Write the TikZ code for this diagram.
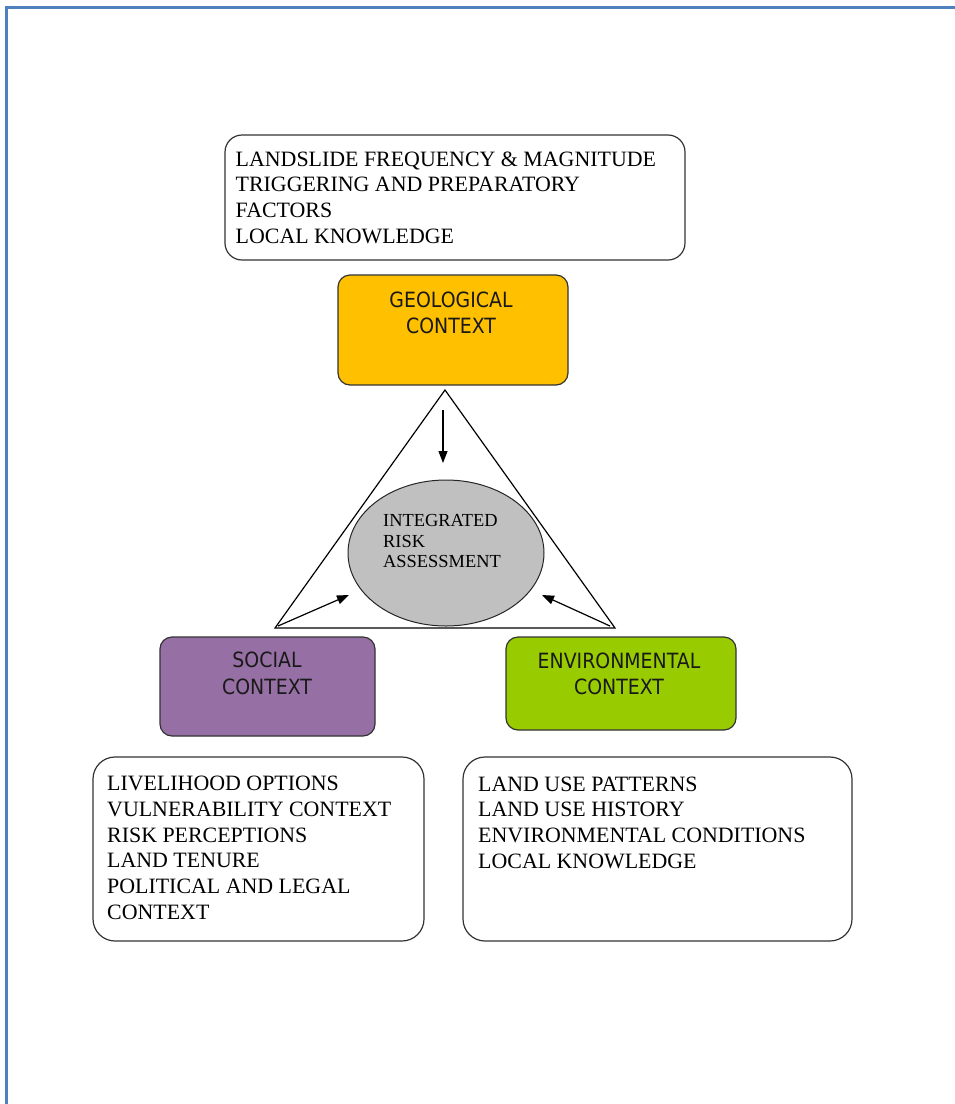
\documentclass[tikz,border=0pt]{standalone}
\usepackage{fontspec}
\setmainfont{Liberation Serif}
\newfontfamily\labelfont[FakeStretch=0.9]{DejaVu Sans}
\usetikzlibrary{arrows.meta,shapes.geometric}
\definecolor{frameblue}{RGB}{79,129,189}
\definecolor{geoyellow}{RGB}{255,192,0}
\definecolor{socpurple}{RGB}{150,112,164}
\definecolor{envgreen}{RGB}{153,204,0}
\definecolor{ellgray}{RGB}{192,192,192}
\begin{document}
\begin{tikzpicture}[x=1pt,y=-1pt,
  listbox/.style={draw=black!80, line width=1.2pt, rounded corners=17pt, inner sep=0pt},
  ctxbox/.style={draw=black!80, line width=1.2pt, rounded corners=12pt, inner sep=0pt},
  listtext/.style={anchor=north west, inner sep=0pt, align=left,
    font=\fontsize{21.9}{25.7}\selectfont},
  ctxtext/.style={inner sep=0pt, align=center, text=black!90,
    font=\labelfont\fontsize{21}{26.5}\selectfont},
  link/.style={line width=1.2pt, -{Triangle[length=12pt,width=9pt]}}]

\useasboundingbox (0,0) rectangle (955,1104);

% page frame
\draw[frameblue, line width=3pt] (6,1104) -- (6,7) -- (955,7);

% geological factors
\node[listbox, minimum width=460pt, minimum height=125pt] (geofacts) at (455,197.5) {};
\node[listtext] (geofactstext) at (235.5,151.5)
  {LANDSLIDE FREQUENCY \& MAGNITUDE\\TRIGGERING AND PREPARATORY\\FACTORS\\LOCAL KNOWLEDGE};

% context boxes
\node[ctxbox, fill=geoyellow, minimum width=230pt, minimum height=110pt] (geo) at (453,330) {};
\node[ctxtext] (geotext) at (451,313) {GEOLOGICAL\\CONTEXT};

\node[ctxbox, fill=socpurple, minimum width=215pt, minimum height=99pt] (soc) at (267.5,686.5) {};
\node[ctxtext] (soctext) at (267,673.5) {SOCIAL\\CONTEXT};

\node[ctxbox, fill=envgreen, minimum width=230pt, minimum height=93pt] (env) at (621,683.5) {};
\node[ctxtext] (envtext) at (619,674) {ENVIRONMENTAL\\CONTEXT};

% triangle with the assessment in its middle
\coordinate (apex) at (445,390);
\coordinate (baseleft) at (275,628);
\coordinate (baseright) at (615,628);
\draw[line width=1.2pt, line join=miter] (apex) -- (baseleft) -- (baseright) -- cycle;

\node[ellipse, draw=black!85, line width=1pt, fill=ellgray,
  minimum width=196pt, minimum height=146pt, inner sep=0pt] (ira) at (446,553) {};
\node[anchor=north west, inner sep=0pt, align=left,
  font=\fontsize{18.4}{20.7}\selectfont] (iratext) at (383,514)
  {INTEGRATED\\RISK\\ASSESSMENT};

% arrows into the assessment
\coordinate (geofrom) at (443,410);
\coordinate (geoto) at (443,463);
\coordinate (socfrom) at (278,626);
\coordinate (socto) at (349,595);
\coordinate (envfrom) at (610,626);
\coordinate (envto) at (542,595);
\draw[link] (geofrom) -- (geoto);
\draw[link] (socfrom) -- (socto);
\draw[link] (envfrom) -- (envto);

% social and environmental factors
\node[listbox, minimum width=331pt, minimum height=184pt, rounded corners=22pt] (socfacts) at (258.5,849) {};
\node[listtext] (socfactstext) at (107,776)
  {LIVELIHOOD OPTIONS\\VULNERABILITY CONTEXT\\RISK PERCEPTIONS\\LAND TENURE\\POLITICAL AND LEGAL\\CONTEXT};

\node[listbox, minimum width=389pt, minimum height=184pt, rounded corners=22pt] (envfacts) at (657.5,849) {};
\node[listtext] (envfactstext) at (478,776.5)
  {LAND USE PATTERNS\\LAND USE HISTORY\\ENVIRONMENTAL CONDITIONS\\LOCAL KNOWLEDGE};
\end{tikzpicture}
\end{document}
